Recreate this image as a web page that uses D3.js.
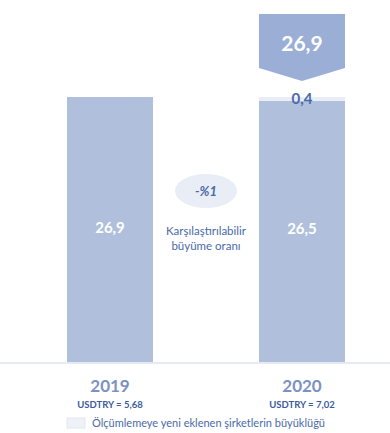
<!DOCTYPE html>
<html>
<head>
<meta charset="utf-8">
<script src="https://cdn.jsdelivr.net/npm/d3@7"></script>
<style>
  body { margin: 0; background: #fff; }
  svg { font-family: Lato, "Open Sans", sans-serif; }
</style>
</head>
<body>
<script>
// veri
const years = ["2019", "2020"];
const comparable = [26.9, 26.5];
const newCompanies = [0, 0.4];
const fxLabels = ["USDTRY = 5,68", "USDTRY = 7,02"];
const totalLabel = "26,9";
const growthLabel = "-%1";
const growthText = ["Karşılaştırılabilir", "büyüme oranı"];
const legendText = "Ölçümlemeye yeni eklenen şirketlerin büyüklüğü";

const W = 390, H = 433;
const baseY = 362, topY = 97;

const svg = d3.select("body").append("svg")
  .attr("width", W).attr("height", H);

const x = d3.scaleBand().domain(years).range([67, 345]).paddingInner(0.552).paddingOuter(0);
const total = comparable.map((v, i) => v + newCompanies[i]);
const y = d3.scaleLinear().domain([0, d3.max(total)]).range([baseY, topY]);

const fmt = v => d3.format(".1f")(v).replace(".", ",");

// alt cizgi
svg.append("line")
  .attr("x1", 0).attr("x2", W).attr("y1", baseY + 1).attr("y2", baseY + 1)
  .attr("stroke", "#e6eaf2").attr("stroke-width", 2);

// ana barlar
svg.selectAll(".bar").data(years).enter().append("rect")
  .attr("x", d => x(d)).attr("width", x.bandwidth())
  .attr("y", (d, i) => y(comparable[i]))
  .attr("height", (d, i) => baseY - y(comparable[i]))
  .attr("fill", "#afbfdc");

// yeni sirketler
svg.selectAll(".newbar").data(years.filter((d, i) => newCompanies[i] > 0)).enter().append("rect")
  .attr("x", d => x(d)).attr("width", x.bandwidth())
  .attr("y", d => y(total[years.indexOf(d)]))
  .attr("height", d => { const i = years.indexOf(d); return y(comparable[i]) - y(total[i]); })
  .attr("fill", "#e9edf6");

// bar icindeki degerler
svg.selectAll(".val").data(years).enter().append("text")
  .attr("x", d => x(d) + x.bandwidth() / 2)
  .attr("y", (d, i) => (y(comparable[i]) + baseY) / 2 + 3)
  .attr("text-anchor", "middle").attr("fill", "#fff")
  .attr("font-size", 15).attr("font-weight", 700)
  .text((d, i) => fmt(comparable[i]));

// 0,4 etiketi
svg.append("text")
  .attr("x", x("2020") + x.bandwidth() / 2).attr("y", y(total[1]) + 7)
  .attr("text-anchor", "middle").attr("fill", "#4a6aa9")
  .attr("font-size", 15).attr("font-weight", 700)
  .text(fmt(newCompanies[1]));

// toplam ok kutusu
const bx = x("2020"), bw = x.bandwidth();
const callout = d3.path();
callout.moveTo(bx, 14);
callout.lineTo(bx + bw, 14);
callout.lineTo(bx + bw, 68);
callout.lineTo(bx + bw / 2, 81);
callout.lineTo(bx, 68);
callout.closePath();
svg.append("path").attr("d", callout.toString()).attr("fill", "#9aaed6");
svg.append("text")
  .attr("x", bx + bw / 2).attr("y", 51)
  .attr("text-anchor", "middle").attr("fill", "#fff")
  .attr("font-size", 21).attr("font-weight", 700)
  .text(totalLabel);

// buyume orani
const cx = (x("2019") + bw + x("2020")) / 2;
svg.append("ellipse").attr("cx", cx).attr("cy", 191).attr("rx", 31).attr("ry", 17)
  .attr("fill", "#e9edf6");
svg.append("text").attr("x", cx).attr("y", 196)
  .attr("text-anchor", "middle").attr("fill", "#4a6aa9")
  .attr("font-size", 13).attr("font-weight", 700).attr("font-style", "italic")
  .text(growthLabel);
svg.selectAll(".gt").data(growthText).enter().append("text")
  .attr("x", cx).attr("y", (d, i) => 235 + i * 15)
  .attr("text-anchor", "middle").attr("fill", "#4a6aa9")
  .attr("font-size", 11.5)
  .text(d => d);

// yillar
svg.selectAll(".yr").data(years).enter().append("text")
  .attr("x", d => x(d) + bw / 2).attr("y", 392)
  .attr("text-anchor", "middle").attr("fill", "#7b91c2")
  .attr("font-size", 17).attr("font-weight", 700)
  .text(d => d);
svg.selectAll(".fx").data(years).enter().append("text")
  .attr("x", d => x(d) + bw / 2).attr("y", 408)
  .attr("text-anchor", "middle").attr("fill", "#3b5aa0")
  .attr("font-size", 9.5).attr("font-weight", 700)
  .text((d, i) => fxLabels[i]);

// lejant
svg.append("rect").attr("x", 67).attr("y", 418).attr("width", 18).attr("height", 10)
  .attr("fill", "#eef1f8").attr("stroke", "#e3e7f0");
svg.append("text").attr("x", 92).attr("y", 427)
  .attr("fill", "#4a6aa9").attr("font-size", 11)
  .text(legendText);
</script>
</body>
</html>
